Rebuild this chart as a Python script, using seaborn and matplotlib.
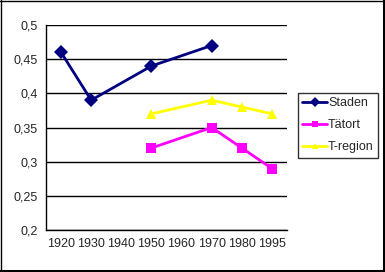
import matplotlib
matplotlib.use("Agg")
import matplotlib.pyplot as plt
import seaborn as sns
import pandas as pd
from matplotlib.lines import Line2D

years = ["1920", "1930", "1940", "1950", "1960", "1970", "1980", "1995"]

staden_years = ["1920", "1930", "1950", "1970"]
staden_vals = [0.46, 0.39, 0.44, 0.47]

tatort_years = ["1950", "1970", "1980", "1995"]
tatort_vals = [0.32, 0.35, 0.32, 0.29]

tregion_years = ["1950", "1970", "1980", "1995"]
tregion_vals = [0.37, 0.39, 0.38, 0.37]

series_names = ["Staden", "Tätort", "T-region"]
colors = ["#000080", "#FF00FF", "#FFFF00"]
markers = ["D", "s", "^"]

sns.set_style("white")
plt.rcParams["font.family"] = ["Liberation Sans", "DejaVu Sans"]

rows = []
for name, ys, vs in zip(series_names,
                        [staden_years, tatort_years, tregion_years],
                        [staden_vals, tatort_vals, tregion_vals]):
    for y, v in zip(ys, vs):
        rows.append({"serie": name, "pos": years.index(y), "value": v})
df = pd.DataFrame(rows)

fig = plt.figure(figsize=(3.85, 2.72), dpi=100)
ax = fig.add_axes([46/385, 1 - 230/272, (287-46)/385, (230-25)/272])

sns.lineplot(data=df, x="pos", y="value", hue="serie", style="serie",
             hue_order=series_names, style_order=series_names,
             palette=colors, markers=markers, dashes=False,
             linewidth=2, markersize=7.5, markeredgewidth=0,
             ax=ax, legend=False)

ax.set_xlim(-0.5, len(years) - 0.5)
ax.set_ylim(0.2, 0.5)
ax.set_yticks([0.2, 0.25, 0.3, 0.35, 0.4, 0.45, 0.5])
ax.set_yticklabels(["0,2", "0,25", "0,3", "0,35", "0,4", "0,45", "0,5"], fontsize=9)
ax.set_xticks(range(len(years)))
ax.set_xticklabels(years, fontsize=9)
ax.set_xticks([i - 0.5 for i in range(len(years) + 1)], minor=True)
ax.tick_params(axis="x", which="major", length=0, pad=6)
ax.tick_params(axis="x", which="minor", length=3, width=1, color="black", direction="out")
ax.tick_params(axis="y", length=3, width=1, color="black", direction="out", pad=3)
ax.set_xlabel("")
ax.set_ylabel("")

ax.grid(axis="y", color="black", linewidth=1)
ax.set_axisbelow(True)
for s in ["top", "right"]:
    ax.spines[s].set_visible(False)
for s in ["left", "bottom"]:
    ax.spines[s].set_color("black")
    ax.spines[s].set_linewidth(1)

handles = [Line2D([0], [0], color=c, marker=m, linewidth=2, markersize=5,
                  markeredgewidth=0) for c, m in zip(colors, markers)]
leg = fig.legend(handles, series_names, loc="upper left",
                 bbox_to_anchor=(298/385, 1 - 93/272), fontsize=9,
                 frameon=True, fancybox=False, handlelength=2.0,
                 handletextpad=0.05, borderpad=0.35, labelspacing=0.8,
                 borderaxespad=0)
leg.get_frame().set_edgecolor("black")
leg.get_frame().set_linewidth(1)

# outer chart border (Excel-style, thicker right/bottom)
fig.add_artist(Line2D([0.5/385, 0.5/385], [0, 1], color="black", linewidth=1, transform=fig.transFigure))
fig.add_artist(Line2D([0, 1], [1 - 0.5/272, 1 - 0.5/272], color="black", linewidth=1, transform=fig.transFigure))
fig.add_artist(Line2D([1 - 1.5/385, 1 - 1.5/385], [0, 1], color="black", linewidth=2.2, transform=fig.transFigure))
fig.add_artist(Line2D([0, 1], [1.5/272, 1.5/272], color="black", linewidth=2.2, transform=fig.transFigure))

fig.savefig("out.png", dpi=100)
